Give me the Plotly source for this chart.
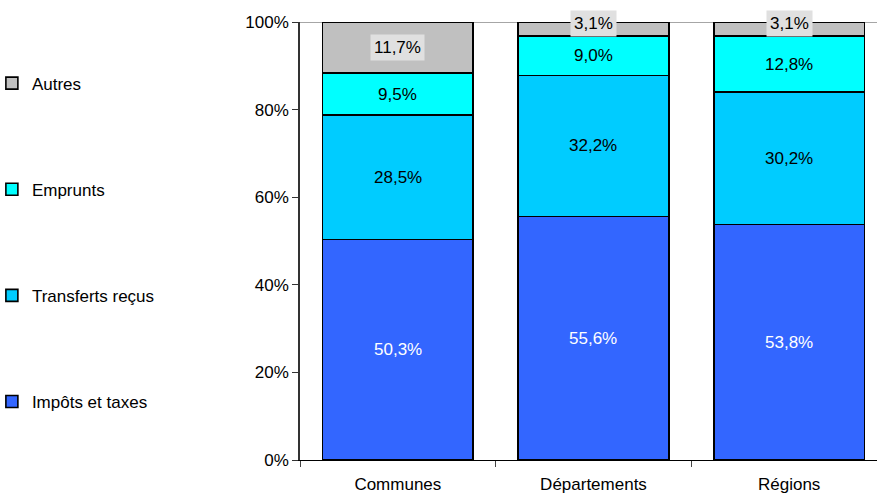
import plotly.graph_objects as go

categories = ["Communes", "Départements", "Régions"]
series_names = ["Impôts et taxes", "Transferts reçus", "Emprunts", "Autres"]
impots = [50.3, 55.6, 53.8]
transferts = [28.5, 32.2, 30.2]
emprunts = [9.5, 9.0, 12.8]
autres = [11.7, 3.1, 3.1]
colors = ["#3366FF", "#00CCFF", "#00FFFF", "#C0C0C0"]
label_colors = ["white", "black", "black", "black"]
y_ticks = [0, 20, 40, 60, 80, 100]

series = [impots, transferts, emprunts, autres]
FONT = "Liberation Sans, Arial, sans-serif"
FS = 17

fig = go.Figure()
for i, (name, vals) in enumerate(zip(series_names, series)):
    fig.add_trace(go.Bar(
        x=categories, y=vals, name=name,
        marker=dict(color=colors[i], line=dict(color="black", width=1.6)),
        width=0.77, legendgroup=name, legendrank=len(series) - i,
    ))

annotations = []
base = [0.0, 0.0, 0.0]
for i, vals in enumerate(series):
    for j, v in enumerate(vals):
        mid = base[j] + v / 2
        txt = f"{v:.1f}%".replace(".", ",")
        ann = dict(x=categories[j], y=mid, xref="x", yref="y", text=txt,
                   showarrow=False,
                   font=dict(family=FONT, size=FS, color=label_colors[i]))
        if i == 3:
            ann["bgcolor"] = "#E0E0E0"
            ann["borderpad"] = 3
            if v < 6:
                ann["yshift"] = 6
        annotations.append(ann)
        base[j] += v

fig.update_layout(
    width=877, height=495,
    margin=dict(l=300, r=0, t=22, b=35, autoexpand=False),
    paper_bgcolor="white", plot_bgcolor="white",
    barmode="stack",
    font=dict(family=FONT, size=FS, color="black"),
    annotations=annotations,
    showlegend=True,
    legend=dict(xref="paper", yref="paper", x=-0.534, y=0.9005,
                xanchor="left", yanchor="top",
                traceorder="grouped", tracegroupgap=81,
                font=dict(family=FONT, size=FS, color="black"),
                itemwidth=30, maxheight=480),
    xaxis=dict(range=[-0.5, 2.449], showline=True, linecolor="black", linewidth=1,
               ticks="outside", tickson="boundaries", ticklen=6, tickcolor="#444",
               showgrid=False, tickfont=dict(size=FS), automargin=False,
               ticklabelstandoff=9),
    yaxis=dict(range=[0, 100], tickvals=y_ticks, ticktext=[f"{t}%" for t in y_ticks],
               showline=True, linecolor="#333", linewidth=1.5, ticks="outside",
               ticklen=6, tickcolor="#333", showgrid=False, zeroline=False,
               tickfont=dict(size=FS), automargin=False),
    shapes=[dict(type="line", xref="paper", yref="y", x0=0, x1=1, y0=100, y1=100,
                 line=dict(color="#888", width=1.5), layer="below")],
)

fig.write_html("out.html", config={"displayModeBar": False},
               post_script="document.body.style.margin='0';document.body.style.overflow='hidden';")
